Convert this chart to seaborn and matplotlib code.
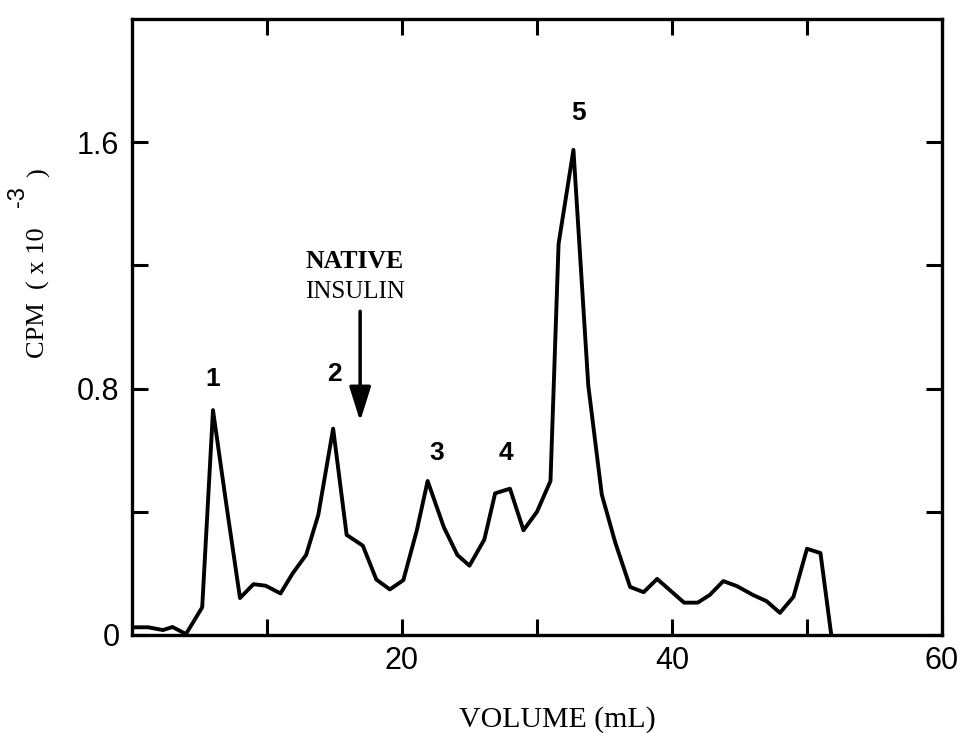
import matplotlib
matplotlib.use("Agg")
import matplotlib.pyplot as plt
import seaborn as sns
import pandas as pd

# Data
volume_ml = [0.0, 1.2, 2.3, 3.0, 4.0, 5.2, 6.0, 7.0, 8.0, 9.0, 9.9, 11.0, 11.9, 12.9,
             13.8, 14.9, 15.9, 17.1, 18.1, 19.1, 20.1, 21.1, 21.9, 23.1, 24.1, 25.0,
             26.1, 26.9, 28.0, 29.0, 30.0, 31.0, 31.6, 32.7, 33.8, 34.8, 35.8, 36.9,
             37.9, 38.9, 40.9, 41.9, 42.8, 43.8, 44.8, 46.0, 47.0, 48.0, 49.0, 50.0,
             51.0, 51.8]
cpm = [0.025, 0.025, 0.016, 0.026, 0.003, 0.09, 0.73, 0.42, 0.12, 0.165, 0.16, 0.135,
       0.20, 0.26, 0.39, 0.67, 0.325, 0.29, 0.18, 0.148, 0.178, 0.34, 0.50, 0.35, 0.26,
       0.225, 0.31, 0.46, 0.475, 0.34, 0.40, 0.50, 1.27, 1.575, 0.81, 0.456, 0.30,
       0.156, 0.139, 0.182, 0.105, 0.105, 0.13, 0.175, 0.159, 0.13, 0.11, 0.072,
       0.124, 0.28, 0.266, 0.0]

peak_labels = ["1", "2", "3", "4", "5"]
peak_x = [6.0, 15.0, 22.6, 27.7, 33.1]
peak_y = [0.83, 0.846, 0.59, 0.59, 1.695]

x_ticks = [10, 20, 30, 40, 50, 60]
x_ticklabels = ["", "20", "", "40", "", "60"]
y_ticks = [0, 0.4, 0.8, 1.2, 1.6]
y_ticklabels = ["0", "", "0.8", "", "1.6"]

df = pd.DataFrame({"volume": volume_ml, "cpm": cpm})

sns.set_theme(style="white")
plt.rcParams["font.family"] = ["Liberation Sans", "DejaVu Sans"]

fig = plt.figure(figsize=(9.72, 7.33), dpi=100)
ax = fig.add_axes([0.1358, 0.1337, 0.8333, 0.8404])

sns.lineplot(data=df, x="volume", y="cpm", ax=ax, color="black", linewidth=2.8,
             estimator=None, sort=False)

ax.set_xlim(0, 60)
ax.set_ylim(0, 2.0)
ax.set_xticks(x_ticks)
ax.set_xticklabels(x_ticklabels)
ax.set_yticks(y_ticks)
ax.set_yticklabels(y_ticklabels)
ax.tick_params(direction="in", length=11.5, width=2.2, top=True, right=True,
               bottom=True, left=True, labelsize=22, colors="black")
ax.tick_params(axis="x", pad=8)
ax.tick_params(axis="y", pad=9)
for sp in ax.spines.values():
    sp.set_linewidth(2.4)
    sp.set_color("black")

ax.set_xlabel("VOLUME (mL)", fontfamily="Liberation Serif", fontsize=21.5, color="black")
ax.xaxis.set_label_coords(0.525, -0.115)
ax.set_ylabel("")

# y-axis title: built from three pieces so the exponent is full size as in the original
fig.text(0.040, 0.5116, "CPM  ( x 10", rotation=90, ha="center", va="bottom",
         fontfamily="Liberation Serif", fontsize=19, color="black")
fig.text(0.0185, 0.732, "-3", rotation=90, ha="center", va="center",
         fontfamily="Liberation Sans", fontsize=17, color="black")
fig.text(0.040, 0.764, ")", rotation=90, ha="center", va="center",
         fontfamily="Liberation Serif", fontsize=19, color="black")

for lab, px, py in zip(peak_labels, peak_x, peak_y):
    ax.text(px, py, lab, ha="center", va="center", fontsize=19, fontweight="bold",
            color="black")

ax.text(16.5, 1.213, "NATIVE", ha="center", va="center", fontfamily="Liberation Serif",
        fontsize=18.5, fontweight="bold", color="black")
ax.text(16.5, 1.115, "INSULIN", ha="center", va="center", fontfamily="Liberation Serif",
        fontsize=18, color="black")
ax.annotate("", xy=(16.9, 0.685), xytext=(16.9, 1.06),
            arrowprops=dict(arrowstyle="-|>,head_length=1.05,head_width=0.33",
                            mutation_scale=20, lw=2.5, color="black"))

fig.savefig("out.png", dpi=100)
